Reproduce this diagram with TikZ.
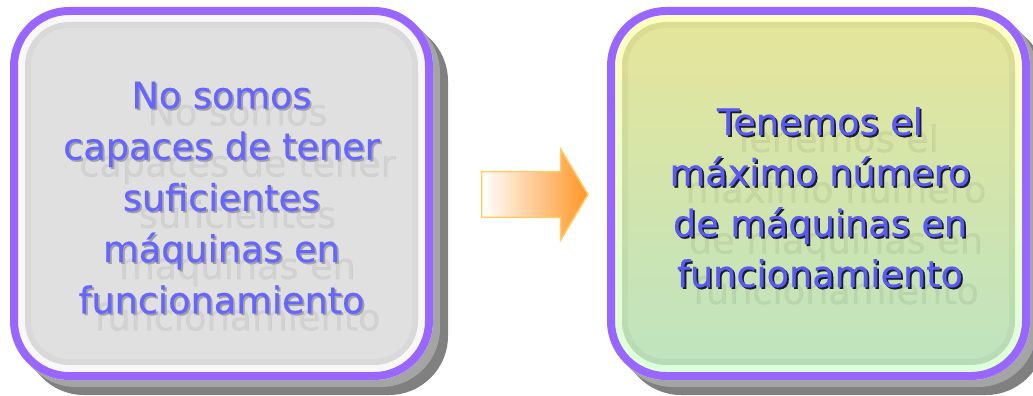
\documentclass[tikz,border=0pt]{standalone}
\usepackage{fontspec}
\newfontfamily\boxfont[FakeBold=0.5]{DejaVu Sans}
\definecolor{bpurple}{HTML}{9966FF}
\definecolor{shdark}{HTML}{808080}
\definecolor{shlight}{HTML}{A4A4A4}
\definecolor{ltxt}{HTML}{6666FF}
\definecolor{rtxt}{HTML}{5A5AF0}
\definecolor{lshadow}{HTML}{A0A0A8}
\definecolor{rshadow}{HTML}{1A1A30}
\definecolor{arrowline}{HTML}{FFCC66}
\definecolor{arroworange}{HTML}{FF9626}
\newcommand\boxline[6]{%
  \node[txt, text=black, text opacity=.06] (#6r) at (#1+16,#2+17) {#3};
  \node[txt, text=#5] (#6s) at (#1+1.8,#2+1.8) {#3};
  \node[txt, text=#4] (#6) at (#1,#2) {#3};}
\begin{document}
\begin{tikzpicture}[x=1pt,y=-1pt,
  txt/.style={anchor=base, font=\boxfont\fontsize{36.6}{44}\selectfont, inner sep=0pt},
  boxborder/.style={draw=bpurple, line width=8pt, rounded corners=55pt, minimum width=415pt, minimum height=365pt, inner sep=0pt}]
\useasboundingbox (0,0) rectangle (1033,396);
\fill[white] (0,0) rectangle (1033,396);
% ---------- left box ----------
\fill[shdark, rounded corners=59pt] (25,22) rectangle (448,395);
\fill[shlight, rounded corners=59pt] (17,14) rectangle (440,387);
\fill[fill={rgb,255:red,248;green,248;blue,248}, rounded corners=59pt] (10,7) rectangle (433,380);
\fill[fill={rgb,255:red,217;green,217;blue,217}, rounded corners=44pt] (25,22) rectangle (418,365);
\fill[fill={rgb,255:red,224;green,224;blue,224}, rounded corners=38pt] (31,28) rectangle (412,359);
\node[boxborder] (leftbox) at (221.5,193.5) {};
% ---------- right box ----------
\fill[shdark, rounded corners=59pt] (622,22) rectangle (1045,395);
\fill[shlight, rounded corners=59pt] (614,14) rectangle (1037,387);
\shade[top color={rgb,255:red,255;green,255;blue,192}, bottom color={rgb,255:red,221;green,255;blue,221}, rounded corners=59pt] (607,7) rectangle (1030,380);
\shade[top color={rgb,255:red,220;green,220;blue,146}, bottom color={rgb,255:red,183;green,219;blue,183}, rounded corners=44pt] (622,22) rectangle (1015,365);
\shade[top color={rgb,255:red,229;green,229;blue,155}, bottom color={rgb,255:red,191;green,228;blue,191}, rounded corners=38pt] (628,28) rectangle (1009,359);
\node[boxborder] (rightbox) at (818.5,193.5) {};
% ---------- arrow ----------
\shade[left color=white, right color=arroworange, draw=arrowline, line width=1.5pt, line join=miter]
  (481.7,171.7) -- (560.7,171.7) -- (560.7,149) -- (588,194.5) -- (560.7,240) -- (560.7,217.3) -- (481.7,217.3) -- cycle;
% ---------- left text ----------
\boxline{221.5}{108.3}{No somos}{ltxt}{lshadow}{la}
\boxline{221.5}{159.5}{capaces de tener}{ltxt}{lshadow}{lb}
\boxline{221.5}{210.8}{suficientes}{ltxt}{lshadow}{lc}
\boxline{221.5}{262}{máquinas en}{ltxt}{lshadow}{ld}
\boxline{221.5}{313.3}{funcionamiento}{ltxt}{lshadow}{le}
% ---------- right text ----------
\boxline{820}{135}{Tenemos el}{rtxt}{rshadow}{ra}
\boxline{820}{185.7}{máximo número}{rtxt}{rshadow}{rb}
\boxline{820}{236.5}{de máquinas en}{rtxt}{rshadow}{rc}
\boxline{820}{287}{funcionamiento}{rtxt}{rshadow}{rd}
\end{tikzpicture}
\end{document}
